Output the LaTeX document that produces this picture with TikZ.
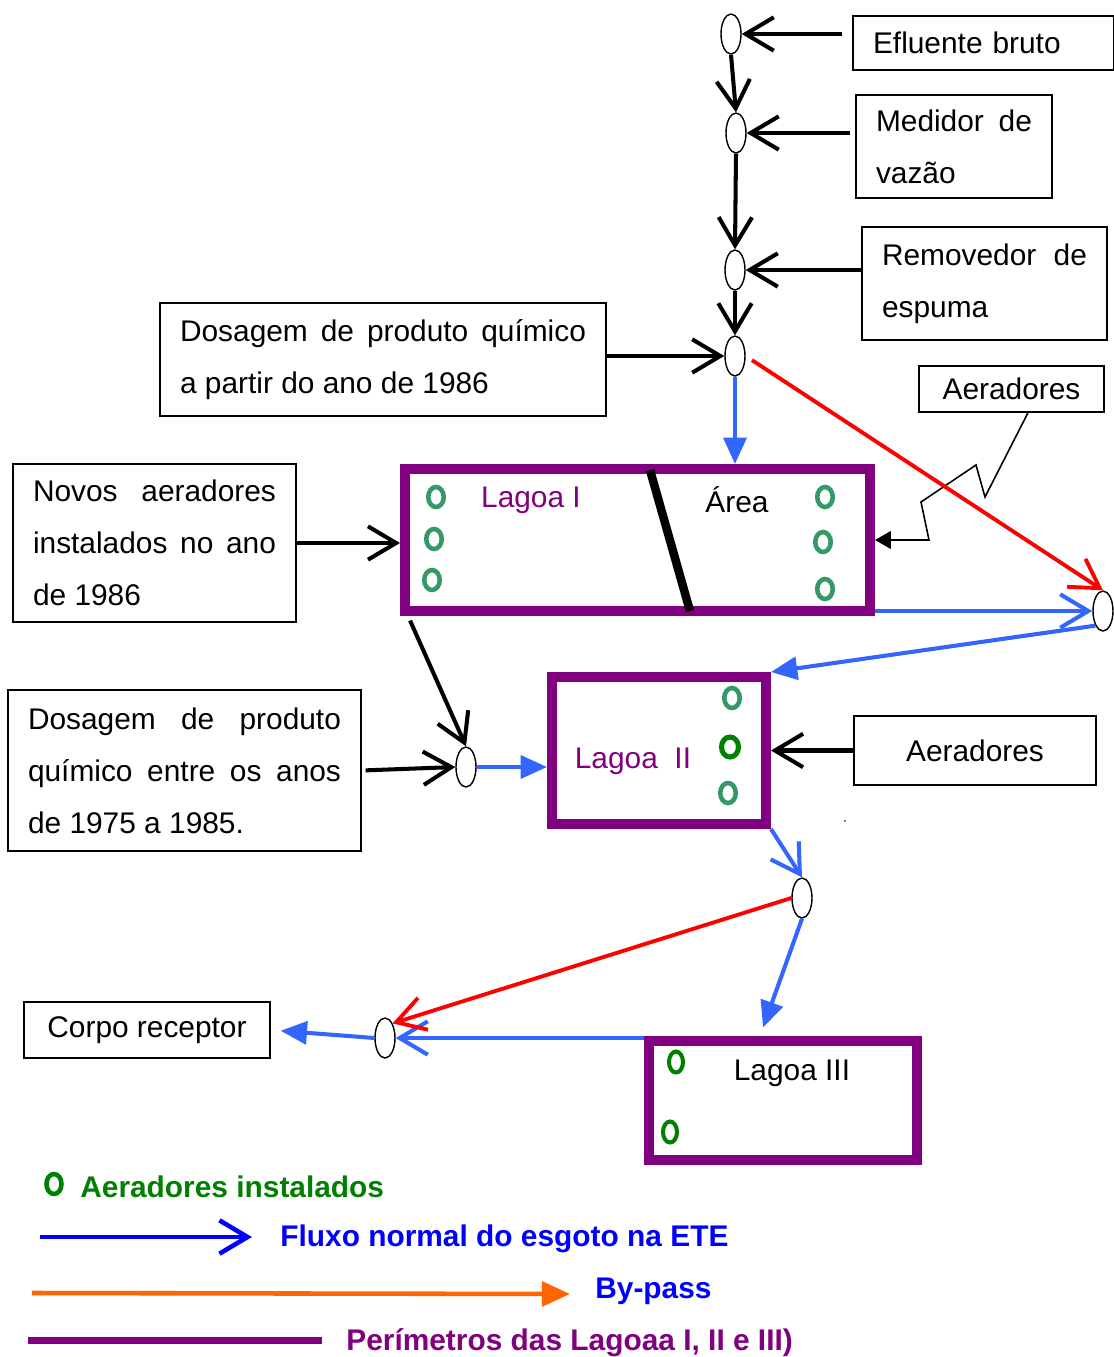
\documentclass[tikz,border=0pt]{standalone}
\usepackage{fontspec}
\setmainfont{Liberation Sans}
\usetikzlibrary{shapes.geometric, arrows.meta, positioning}
\definecolor{lagoonpurple}{RGB}{128,0,128}
\definecolor{flowblue}{RGB}{51,102,255}
\definecolor{aerteal}{RGB}{51,153,102}
\definecolor{aergreen}{RGB}{0,128,0}
\definecolor{legendblue}{RGB}{0,0,255}
\definecolor{bypassorange}{RGB}{255,102,0}
\tikzset{
  infobox/.style={rectangle, draw=black, line width=0.8pt, inner xsep=0.4cm, inner ysep=0pt, align=justify},
  junction/.style={ellipse, draw=black, line width=0.8pt, fill=white, minimum width=0.4cm, minimum height=0.8cm, inner sep=0pt},
  lagoon/.style={rectangle, draw=lagoonpurple, line width=0.2cm},
  aerator/.style={ellipse, draw=aerteal, line width=2.6pt, minimum width=0.31cm, minimum height=0.4cm, inner sep=0pt},
  feedarrow/.style={line width=2.3pt, -{Straight Barb[length=16pt, width=19pt]}},
  flowarrow/.style={flowblue, line width=2.3pt, -{Triangle[length=15pt, width=13pt]}},
  flowbarb/.style={flowblue, line width=2.3pt, -{Straight Barb[length=16pt, width=19pt]}},
  bypassarrow/.style={red, line width=2.2pt, -{Straight Barb[length=16pt, width=19pt]}},
  callout/.style={line width=0.9pt, -{Triangle[length=9pt, width=10pt]}},
  legendtext/.style={anchor=west, inner sep=0pt, font=\fontsize{17}{20}\selectfont\bfseries}
}

\begin{document}
\begin{tikzpicture}[x=0.02cm, y=-0.02cm, every node/.style={font=\fontsize{17}{29.5}\selectfont}]
\useasboundingbox (0,0) rectangle (1114,1357);

% text boxes
\node[infobox, text width=4.42cm, minimum height=1.08cm, align=left] (efl) at (983.5,43) {Efluente bruto};
\node[infobox, text width=3.12cm, minimum height=2.06cm] (med) at (954,146.5) {Medidor de\linebreak vazão};
\node[infobox, text width=4.1cm, minimum height=2.26cm] (rem) at (984.5,283.5) {Removedor de\linebreak espuma};
\node[infobox, text width=8.12cm, minimum height=2.26cm] (dos1) at (383,359.5) {Dosagem de produto químico\linebreak a partir do ano de 1986};
\node[infobox, minimum width=3.7cm, minimum height=0.92cm, align=center] (aer1) at (1011.5,389) {Aeradores};
\node[infobox, text width=4.86cm, minimum height=3.16cm] (novos) at (154.5,543) {Novos aeradores\linebreak instalados no ano\linebreak de 1986};
\node[infobox, text width=6.26cm, minimum height=3.22cm] (dos2) at (184.5,770.5) {Dosagem de produto\linebreak químico entre os anos\linebreak de 1975 a 1985.};
\node[infobox, minimum width=4.84cm, minimum height=1.38cm, align=center] (aer2) at (975,750.5) {Aeradores};
\node[infobox, minimum width=4.92cm, minimum height=1.12cm, align=center] (corpo) at (147,1030) {Corpo receptor};

% lagoons
\node[lagoon, minimum width=9.3cm, minimum height=2.84cm] (lag1) at (637.5,540) {};
\node[lagoon, minimum width=4.28cm, minimum height=2.94cm] (lag2) at (659,750.5) {};
\node[lagoon, minimum width=5.36cm, minimum height=2.38cm] (lag3) at (783,1100.5) {};
\draw[line width=0.17cm] (650,470) -- (690,611);
\node[text=lagoonpurple] (lag1name) at (531,500) {Lagoa I};
\node (lag1area) at (737,500) {Área};
\node[text=lagoonpurple] (lag2name) at (633,761) {Lagoa\ \ II};
\node (lag3name) at (792,1073) {Lagoa III};

\foreach \x/\y [count=\i] in {436/497, 434/539, 432/580, 825/497, 823/542, 825/589}
  \node[aerator] (aerI\i) at (\x,\y) {};
\node[aerator] (aerII1) at (732,698) {};
\node[aerator, draw=aergreen, line width=2.9pt, minimum width=0.34cm] (aerII2) at (730,747) {};
\node[aerator] (aerII3) at (728,793) {};
\node[aerator, draw=aergreen, line width=2.3pt, minimum width=0.28cm, minimum height=0.42cm] (aerIII1) at (676,1062) {};
\node[aerator, draw=aergreen, line width=2.3pt, minimum width=0.28cm, minimum height=0.42cm] (aerIII2) at (670,1132) {};

% junctions
\node[junction] (j1) at (731,34) {};
\node[junction] (j2) at (736,133) {};
\node[junction] (j3) at (735,270) {};
\node[junction] (j4) at (735,356) {};
\node[junction] (j5) at (1103,611) {};
\node[junction] (j6) at (466,767) {};
\node[junction] (j7) at (802,898) {};
\node[junction] (j8) at (385,1038) {};

\draw[feedarrow, shorten <=0.2cm] (efl.west |- j1.east) -- (j1.east);
\draw[feedarrow] (j1.south) -- (j2.north);
\draw[feedarrow, shorten <=0.1cm] (med.west |- j2.east) -- (j2.east);
\draw[feedarrow] (j2.south) -- (j3.north);
\draw[feedarrow] (rem.west |- j3.east) -- (j3.east);
\draw[feedarrow] (j3.south) -- (j4.north);
\draw[feedarrow] (dos1.east |- j4.west) -- (j4.west);
\draw[feedarrow] (novos.east) -- (novos.east -| lag1.west);
\draw[feedarrow, shorten <=0.1cm] ([xshift=0.16cm]lag1.south west) -- (j6.north);
\draw[feedarrow, shorten <=0.08cm] (dos2.east) -- (j6.west);
\draw[feedarrow] (aer2.west) -- (lag2.east);
\draw[callout] ([xshift=0.33cm]aer1.south) -- (985,497) -- (976,465) -- (921,502) -- (929,540) -- (lag1.east);

\draw[flowarrow] (j4.south) -- (j4.south |- lag1.north);
\draw[flowbarb] (lag1.east |- j5.west) -- (j5.west);
\draw[flowarrow] (j5.south west) -- (lag2.north east);
\draw[flowarrow] (j6.east) -- (j6.east -| lag2.west);
\draw[flowbarb] (lag2.south east) -- (j7.north);
\draw[flowarrow, shorten >=0.18cm] (j7.south) -- ([xshift=-0.46cm]lag3.north);
\draw[flowbarb] (lag3.north west |- j8.east) -- (j8.east);
\draw[flowarrow, shorten >=0.2cm] (j8.west) -- (corpo.east);

\draw[bypassarrow, shorten <=0.15cm] (j4.east) -- (j5.north);
\draw[bypassarrow] (j7.west) -- (j8.north east);

\fill (845,821) circle (0.5pt);

% legend
\node[aerator, draw=aergreen, line width=2.6pt, minimum width=0.3cm, minimum height=0.4cm] (legaer) at (54,1184) {};
\node[legendtext, text=aergreen] (legaertxt) at (80,1187) {Aeradores instalados};
\coordinate (legflowa) at (40,1237);
\coordinate (legflowb) at (252,1237);
\draw[legendblue, line width=2.6pt, -{Straight Barb[length=16pt, width=19pt]}] (legflowa) -- (legflowb);
\node[legendtext, text=legendblue] (legflowtxt) at (280,1239) {Fluxo normal do esgoto na ETE};
\coordinate (legbypa) at (32,1293);
\coordinate (legbypb) at (570,1294);
\draw[bypassorange, line width=2.6pt, -{Triangle[length=16pt, width=14pt]}] (legbypa) -- (legbypb);
\node[legendtext, text=legendblue] (legbyptxt) at (595,1291) {By-pass};
\coordinate (legpera) at (28,1340);
\coordinate (legperb) at (322,1340);
\draw[lagoonpurple, line width=4pt] (legpera) -- (legperb);
\node[legendtext, text=lagoonpurple] (legpertxt) at (346,1343) {Perímetros das Lagoaa I, II e III)};
\end{tikzpicture}
\end{document}
